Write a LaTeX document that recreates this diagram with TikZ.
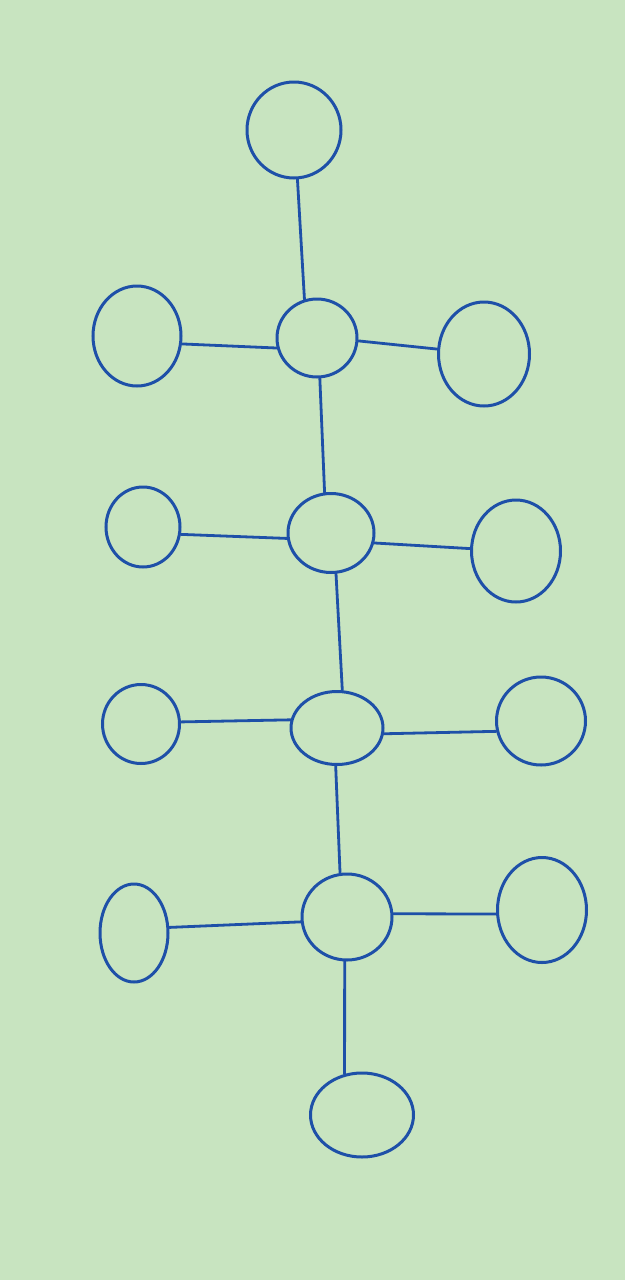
\documentclass[tikz,border=0pt]{standalone}
\usetikzlibrary{shapes.geometric}
\definecolor{paper}{RGB}{200,228,192}
\definecolor{ink}{RGB}{30,80,168}
\begin{document}
\begin{tikzpicture}[x=1pt,y=-1pt,
  bub/.style={ellipse,draw=ink,line width=3pt,inner sep=0pt},
  link/.style={draw=ink,line width=2.8pt,line cap=round}]
\fill[paper] (0,0) rectangle (625,1280);
\useasboundingbox (0,0) rectangle (625,1280);
\node[bub,minimum width=94pt,minimum height=96pt] (top) at (294,130) {};
\node[bub,minimum width=80pt,minimum height=78pt] (c1) at (317,338) {};
\node[bub,minimum width=88pt,minimum height=100pt] (l1) at (137,336) {};
\node[bub,minimum width=91pt,minimum height=104pt] (r1) at (484,354) {};
\node[bub,minimum width=86pt,minimum height=79pt] (c2) at (331,533) {};
\node[bub,minimum width=74pt,minimum height=80pt] (l2) at (143,527) {};
\node[bub,minimum width=89pt,minimum height=102pt] (r2) at (516,551) {};
\node[bub,minimum width=92pt,minimum height=73pt] (c3) at (337,728) {};
\node[bub,minimum width=77pt,minimum height=79pt] (l3) at (141,724) {};
\node[bub,minimum width=89pt,minimum height=88pt] (r3) at (541,721) {};
\node[bub,minimum width=90pt,minimum height=86pt] (c4) at (347,917) {};
\node[bub,minimum width=68pt,minimum height=98pt] (l4) at (134,933) {};
\node[bub,minimum width=89pt,minimum height=105pt] (r4) at (542,910) {};
\node[bub,minimum width=103pt,minimum height=84pt] (bot) at (362,1115) {};
\draw[link] (top.-86) -- (c1.108);
\draw[link] (c1.-86) -- (c2.99);
\draw[link] (c2.-83) -- (c3.82);
\draw[link] (c3.-92) -- (c4.99);
\draw[link] (c4.-93) -- (bot.113);
\draw[link] (c1.194) -- (l1.-10);
\draw[link] (c1.-4) -- (r1.174);
\draw[link] (c2.187) -- (l2.-11);
\draw[link] (c2.-13) -- (r2.177);
\draw[link] (c3.170) -- (l3.3);
\draw[link] (c3.-7) -- (r3.193);
\draw[link] (c4.186) -- (l4.9);
\draw[link] (c4.4) -- (r4.185);
\end{tikzpicture}
\end{document}
